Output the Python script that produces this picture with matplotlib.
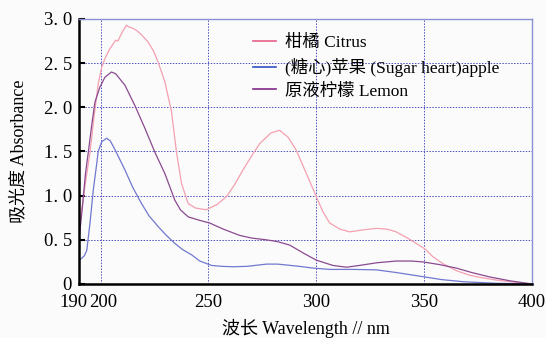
import matplotlib
matplotlib.use("Agg")
import matplotlib.pyplot as plt
import matplotlib.transforms as mtransforms

plt.rcParams['font.family'] = ['Liberation Serif', 'Noto Sans CJK SC']

# Citrus (pink)
citrus_x = [190, 191.5, 193, 195.1, 197, 199, 200.5, 202, 204, 205.9, 207, 208, 210, 212, 213,
            214.5, 216.7, 219, 222, 224.5, 226.7, 229.8, 232.9, 235.2, 237.5, 240.6, 244, 249,
            254, 258.4, 262, 266, 270, 273.8, 279, 283, 287, 290.8, 295.4, 300, 303, 306.2, 311,
            315.5, 321, 327.8, 333, 337, 343, 350.2, 354, 358.7, 365, 371, 377, 383.4, 392, 400]
citrus_y = [0.62, 0.88, 1.15, 1.49, 1.90, 2.28, 2.45, 2.55, 2.65, 2.72, 2.76, 2.75, 2.85, 2.93, 2.91,
            2.90, 2.87, 2.82, 2.74, 2.64, 2.51, 2.29, 1.95, 1.49, 1.14, 0.91, 0.86, 0.84,
            0.90, 0.99, 1.12, 1.29, 1.45, 1.59, 1.71, 1.74, 1.66, 1.51, 1.25, 0.99, 0.82, 0.69, 0.62,
            0.59, 0.61, 0.63, 0.62, 0.59, 0.51, 0.40, 0.31, 0.23, 0.15, 0.10, 0.07, 0.045, 0.02, 0.0]

# (Sugar heart) apple (blue)
apple_x = [190, 191.2, 192.5, 193.6, 195.1, 196.6, 198.2, 198.9, 200.5, 202.8, 204.5, 206.7, 211.3,
           215, 219, 222.5, 226.7, 230.5, 234.4, 238, 242.2, 246, 251.4, 256, 261.4, 268, 276.9,
           282, 286.2, 292, 298.5, 306.2, 317, 327.8, 337, 349.4, 358, 368, 383, 400]
apple_y = [0.27, 0.29, 0.32, 0.38, 0.69, 1.06, 1.36, 1.50, 1.61, 1.65, 1.62, 1.52, 1.29,
           1.09, 0.91, 0.77, 0.65, 0.55, 0.46, 0.39, 0.33, 0.26, 0.21, 0.20, 0.195, 0.20, 0.225,
           0.225, 0.215, 0.20, 0.18, 0.165, 0.165, 0.16, 0.13, 0.083, 0.05, 0.026, 0.008, 0.0]

# Lemon juice (purple)
lemon_x = [190, 191.5, 193, 194.3, 195.9, 197.4, 199.7, 202, 205, 207, 211.3, 215.9, 220.6, 225.2,
           229.8, 234.4, 237, 240.6, 246, 250.6, 257, 264.5, 270, 276.9, 282, 287.7, 294, 300,
           307.7, 314, 320, 328, 337, 344, 349.4, 357, 364.9, 372, 380.3, 390, 400]
lemon_y = [0.50, 0.85, 1.25, 1.49, 1.80, 2.06, 2.23, 2.34, 2.40, 2.38, 2.25, 2.02, 1.76, 1.49,
           1.25, 0.95, 0.84, 0.76, 0.72, 0.69, 0.62, 0.55, 0.52, 0.50, 0.48, 0.44, 0.35, 0.27,
           0.21, 0.19, 0.21, 0.24, 0.26, 0.26, 0.25, 0.22, 0.18, 0.13, 0.08, 0.035, 0.0]

labels = ["柑橘 Citrus", "(糖心)苹果 (Sugar heart)apple", "原液柠檬 Lemon"]
x_ticks = [190, 200, 250, 300, 350, 400]
y_ticks = [0, 0.5, 1.0, 1.5, 2.0, 2.5, 3.0]
y_tick_labels = ["0", "0. 5", "1. 0", "1. 5", "2. 0", "2. 5", "3. 0"]

fig = plt.figure(figsize=(5.46, 3.38), dpi=100, facecolor='#fbfbfb')
ax = fig.add_axes([0.1447, 0.1598, 0.8297, 0.7840])
ax.set_facecolor('#fbfbfb')

ax.plot(citrus_x, citrus_y, color='#f4a0b0', lw=0.9)
ax.plot(apple_x, apple_y, color='#7078d0', lw=0.9)
ax.plot(lemon_x, lemon_y, color='#8a4a90', lw=0.9)

ax.set_xlim(190, 400)
ax.set_ylim(0, 3.0)

for xv in [200, 250, 300, 350]:
    ax.axvline(xv, color='#5050c0', lw=0.7, ls=(0, (1.5, 1.5)), zorder=0)
for yv in [0.5, 1.0, 1.5, 2.0, 2.5]:
    ax.axhline(yv, color='#5050c0', lw=0.7, ls=(0, (1.5, 1.5)), zorder=0)

ax.spines['left'].set_linewidth(1.8)
ax.spines['bottom'].set_linewidth(1.8)
ax.spines['top'].set_color('#8a90d8')
ax.spines['right'].set_color('#8a90d8')
ax.spines['top'].set_linewidth(1.0)
ax.spines['right'].set_linewidth(1.0)

ax.set_xticks(x_ticks)
ax.set_yticks(y_ticks)
ax.set_yticklabels(y_tick_labels)
ax.tick_params(axis='y', direction='in', length=4, width=1.5, pad=5, labelsize=13.5)
ax.tick_params(axis='x', length=0, pad=7, labelsize=13.5)

xl = ax.get_xticklabels()
xl[0].set_transform(xl[0].get_transform() + mtransforms.ScaledTranslation(-6 / 100, 0, fig.dpi_scale_trans))
xl[1].set_transform(xl[1].get_transform() + mtransforms.ScaledTranslation(3 / 100, 0, fig.dpi_scale_trans))

ax.set_xlabel("波长 Wavelength // nm", fontsize=13, labelpad=6)
ax.set_ylabel("吸光度 Absorbance", fontsize=13, labelpad=12)

leg_lines = [plt.Line2D([], [], color='#e8608a', lw=1.2),
             plt.Line2D([], [], color='#3050c0', lw=1.2),
             plt.Line2D([], [], color='#802a88', lw=1.2)]
ax.legend(leg_lines, labels, loc='upper left', bbox_to_anchor=(0.384, 0.94),
          frameon=False, fontsize=12.5, handlelength=1.3, handletextpad=0.55,
          borderpad=0, borderaxespad=0, labelspacing=0.38)

fig.savefig("out.png", dpi=100, facecolor=fig.get_facecolor())
